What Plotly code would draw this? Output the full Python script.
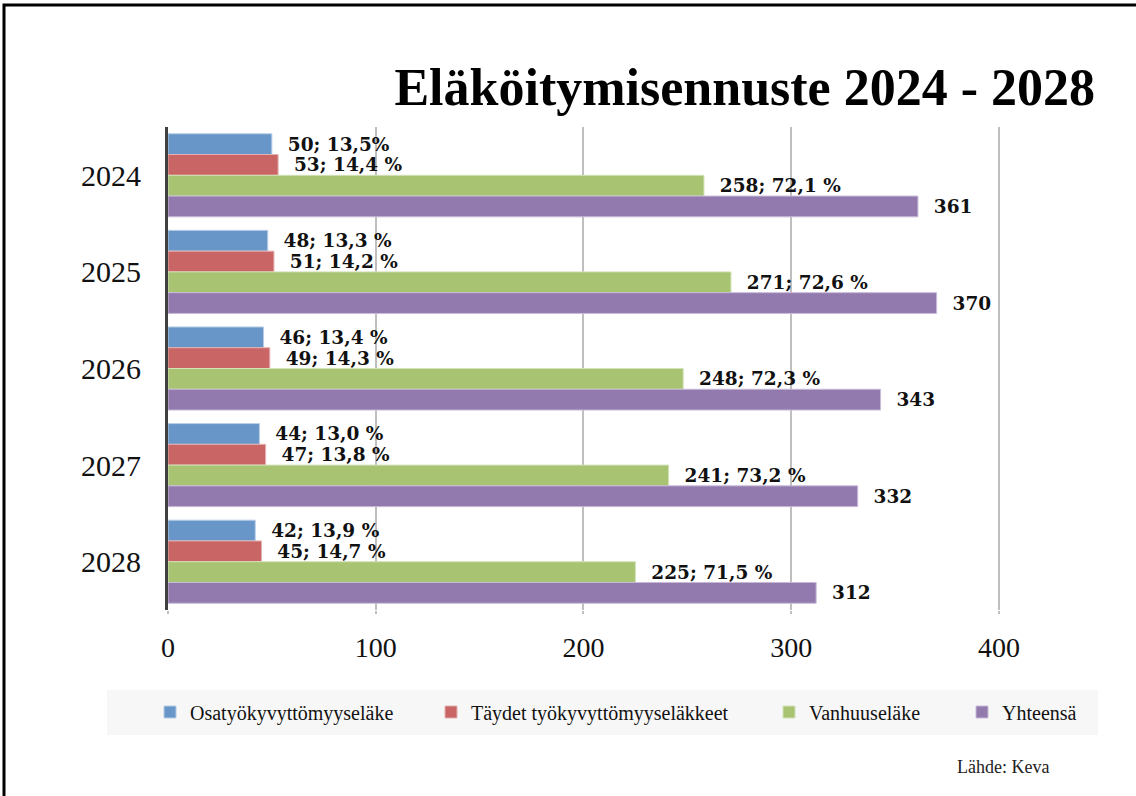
import plotly.graph_objects as go

years = ["2024", "2025", "2026", "2027", "2028"]
series_names = ["Osatyökyvyttömyyseläke", "Täydet työkyvyttömyyseläkkeet", "Vanhuuseläke", "Yhteensä"]
osatyo = [50, 48, 46, 44, 42]
taydet = [53, 51, 49, 47, 45]
vanhuus = [258, 271, 248, 241, 225]
yhteensa = [361, 370, 343, 332, 312]
osatyo_pct = ["13,5%", "13,3 %", "13,4 %", "13,0 %", "13,9 %"]
taydet_pct = ["14,4 %", "14,2 %", "14,3 %", "13,8 %", "14,7 %"]
vanhuus_pct = ["72,1 %", "72,6 %", "72,3 %", "73,2 %", "71,5 %"]
x_ticks = [0, 100, 200, 300, 400]

colors = ["#6896C9", "#C96564", "#A8C472", "#927AAF"]
line_colors = ["#B9CDE6", "#E3B2B1", "#D3E2B8", "#C8BBD7"]
FONT = "Liberation Serif"
LABEL_FONT = "DejaVu Serif"

values = [osatyo, taydet, vanhuus, yhteensa]
texts = [
    [f"{v}; {p}" for v, p in zip(osatyo, osatyo_pct)],
    [f"{v}; {p}" for v, p in zip(taydet, taydet_pct)],
    [f"{v}; {p}" for v, p in zip(vanhuus, vanhuus_pct)],
    [f"{v}" for v in yhteensa],
]

L, R, T, B = 168, 136, 127, 186
W, H = 1136, 796
pw, ph = W - L - R, H - T - B

def px(x):
    return (x - L) / pw

def py(y):
    return (H - B - y) / ph

legend_ids = ["legend", "legend2", "legend3", "legend4"]
legend_left = [150, 431, 769, 962]

fig = go.Figure()
for name, vals, txt, c, lc, lid in zip(series_names, values, texts, colors, line_colors, legend_ids):
    fig.add_trace(go.Bar(
        y=years, x=vals, name=name, orientation="h", legend=lid,
        marker=dict(color=c, line=dict(color=lc, width=1)),
        text=txt, texttemplate="\u00a0\u00a0%{text}",
        textposition="outside", constraintext="none", cliponaxis=False,
        textfont=dict(family=LABEL_FONT, size=18.5, color="#111111", weight="bold"),
        hoverinfo="skip",
    ))

legend_common = dict(orientation="h", xanchor="left", y=py(712), yanchor="middle",
                     bgcolor="rgba(0,0,0,0)", font=dict(family=FONT, size=20, color="#111111"))
legend_layout = {lid: dict(x=px(xl), **legend_common) for lid, xl in zip(legend_ids, legend_left)}

fig.update_layout(
    width=W, height=H,
    margin=dict(l=L, r=R, t=T, b=B),
    paper_bgcolor="white", plot_bgcolor="white",
    barmode="group", bargap=0.14, bargroupgap=0,
    title=dict(text="<b>Eläköitymisennuste 2024 - 2028</b>",
               xref="container", yref="container",
               x=1095 / W, xanchor="right", y=1 - 87 / H, yanchor="middle",
               font=dict(family=FONT, size=52, color="#000000")),
    showlegend=True,
    **legend_layout,
    xaxis=dict(range=[0, 400.5], tickvals=x_ticks, showgrid=True, gridcolor="#BFBFBF", gridwidth=1.5,
               zeroline=False, showline=False, ticks="outside", ticklen=3, tickcolor="#BFBFBF",
               tickwidth=1.5, ticklabelstandoff=9,
               tickfont=dict(family=FONT, size=28, color="#111111")),
    yaxis=dict(autorange="reversed", showline=True, linecolor="#404040", linewidth=3,
               ticks="", tickfont=dict(family=FONT, size=30, color="#111111"),
               ticklabelstandoff=18),
    shapes=[
        dict(type="rect", xref="paper", yref="paper", x0=px(107), x1=px(1098), y0=py(735), y1=py(690),
             fillcolor="#F7F7F7", line=dict(width=0), layer="below"),
        dict(type="rect", xref="paper", yref="paper", x0=px(4), x1=px(1200), y0=py(900), y1=py(5),
             fillcolor="rgba(0,0,0,0)", line=dict(color="#000000", width=3)),
    ],
    annotations=[
        dict(text="Lähde: Keva", xref="paper", yref="paper", x=px(955), y=py(767),
             xanchor="left", yanchor="middle", showarrow=False,
             font=dict(family=FONT, size=18, color="#222222")),
    ],
)

fig.write_html("out.html")
